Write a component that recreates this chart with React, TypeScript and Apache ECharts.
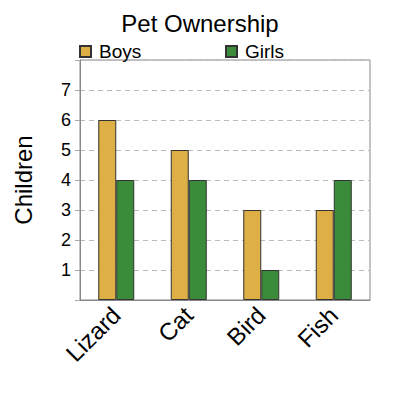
import * as echarts from 'echarts';
import React, { useEffect, useRef } from 'react';

const categories = ['Lizard', 'Cat', 'Bird', 'Fish'];
const boys = [6, 5, 3, 3];
const girls = [4, 4, 1, 4];

const FONT = 'Liberation Sans, Arial, sans-serif';

const App: React.FC = () => {
  const chartRef = useRef<HTMLDivElement>(null);

  useEffect(() => {
    const myChart = echarts.init(chartRef.current!, undefined, { renderer: 'svg' });

    const legendText = { fontSize: 19, color: '#000', fontFamily: FONT, padding: [0, 0, 0, 3] };

    const option = {
      animation: false,
      textStyle: { fontFamily: FONT },
      title: {
        text: 'Pet Ownership',
        left: 'center',
        top: 11,
        padding: 0,
        textStyle: { fontSize: 24, fontWeight: 'normal', color: '#000', fontFamily: FONT },
      },
      legend: [
        {
          data: [{ name: 'Boys', icon: 'rect' }],
          left: 79,
          top: 42,
          padding: 0,
          itemWidth: 11,
          itemHeight: 11,
          itemGap: 0,
          textStyle: legendText,
        },
        {
          data: [{ name: 'Girls', icon: 'rect' }],
          left: 225,
          top: 42,
          padding: 0,
          itemWidth: 11,
          itemHeight: 11,
          itemGap: 0,
          textStyle: legendText,
        },
      ],
      grid: {
        left: 80,
        right: 30,
        top: 60,
        bottom: 100,
        show: true,
        borderColor: '#888',
        borderWidth: 1,
        backgroundColor: 'transparent',
      },
      xAxis: {
        type: 'category',
        data: categories,
        axisTick: { show: false },
        axisLine: { lineStyle: { color: '#888' } },
        axisLabel: {
          rotate: 45,
          fontSize: 24,
          color: '#000',
          margin: 11,
          fontFamily: FONT,
        },
      },
      yAxis: {
        type: 'value',
        min: 0,
        max: 8,
        interval: 1,
        name: 'Children',
        nameLocation: 'middle',
        nameGap: 45,
        nameTextStyle: { fontSize: 24, color: '#000', fontFamily: FONT },
        axisLine: { show: true, lineStyle: { color: '#888' } },
        axisTick: { show: true, length: 5, lineStyle: { color: '#aaa' } },
        axisLabel: {
          fontSize: 18,
          color: '#000',
          margin: 9,
          fontFamily: FONT,
          formatter: (v: number) => (v === 0 || v === 8 ? '' : String(v)),
        },
        splitLine: { lineStyle: { color: '#bbb', type: [5, 4] } },
      },
      series: [
        {
          name: 'Boys',
          type: 'bar',
          data: boys,
          barWidth: 18,
          barGap: '0%',
          itemStyle: { color: '#DDAF45', borderColor: '#333', borderWidth: 1 },
        },
        {
          name: 'Girls',
          type: 'bar',
          data: girls,
          barWidth: 18,
          itemStyle: { color: '#3A8C3A', borderColor: '#333', borderWidth: 1 },
        },
      ],
    };

    myChart.setOption(option);

    return () => {
      myChart.dispose();
    };
  }, []);

  return <div ref={chartRef} style={{ width: '400px', height: '400px', margin: '-8px' }} />;
};

export default App;
